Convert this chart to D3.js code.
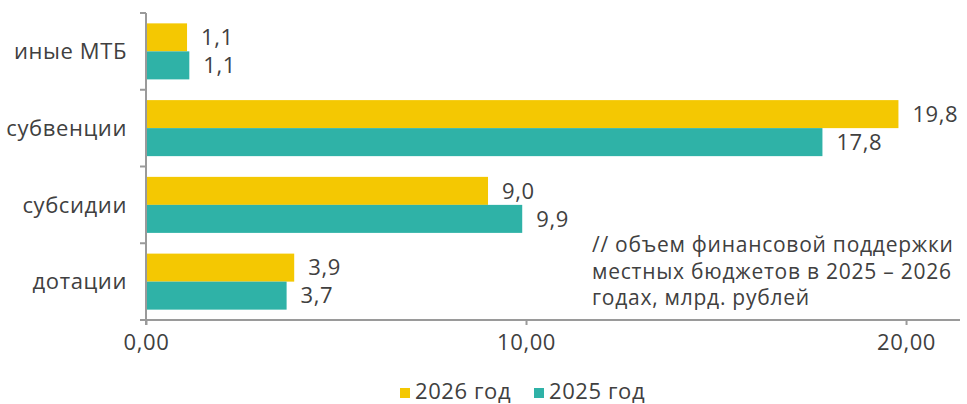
<!DOCTYPE html>
<html>
<head>
<meta charset="utf-8">
<script src="https://cdn.jsdelivr.net/npm/d3@7"></script>
<style>
  html, body { margin: 0; padding: 0; background: #fff; }
  svg { display: block; font-family: "Open Sans", "Noto Sans", sans-serif; }
  svg text { letter-spacing: 0.6px; }
</style>
</head>
<body>
<svg id="chart" width="967" height="404"></svg>
<script>
const categories = ["иные МТБ", "субвенции", "субсидии", "дотации"];
const values2026 = [1.08, 19.8, 9.0, 3.9];
const values2025 = [1.14, 17.8, 9.9, 3.7];
const seriesNames = ["2026 год", "2025 год"];
const seriesColors = ["#F4C802", "#2FB2A7"];
const xTicks = [0, 10, 20];
const noteLines = ["// объем финансовой поддержки", "местных бюджетов в 2025 – 2026", "годах, млрд. рублей"];

const svg = d3.select("#chart");
const textColor = "#404040";
const axisColor = "#9a9a9a";
const fs = 22;

const margin = {left: 146, top: 13, right: 7, bottom: 84};
const W = 967, H = 404;
const x = d3.scaleLinear().domain([0, 21.42]).range([margin.left, W - margin.right]);
const y = d3.scaleBand().domain(categories).range([margin.top, H - margin.bottom]).paddingInner(0).paddingOuter(0);
const inner = d3.scaleBand().domain([0, 1]).range([0, y.bandwidth()]).paddingOuter(0.37).paddingInner(0);

const fmt = v => d3.format(".1f")(v).replace(".", ",");
const fmtAxis = v => d3.format(".2f")(v).replace(".", ",");

const data = categories.map((c, i) => ({cat: c, vals: [values2026[i], values2025[i]]}));

// bars
const g = svg.append("g");
data.forEach(d => {
  d.vals.forEach((v, si) => {
    const yy = y(d.cat) + inner(si);
    g.append("rect")
      .attr("x", x(0))
      .attr("y", yy)
      .attr("width", x(v) - x(0))
      .attr("height", inner.bandwidth())
      .attr("fill", seriesColors[si]);
    g.append("text")
      .attr("x", x(v) + 14)
      .attr("y", yy + inner.bandwidth() / 2)
      .attr("dy", "0.35em")
      .attr("font-size", fs)
      .attr("fill", textColor)
      .text(fmt(v));
  });
});

// y axis
const yAxisG = svg.append("g");
yAxisG.append("line")
  .attr("x1", x(0)).attr("x2", x(0))
  .attr("y1", margin.top).attr("y2", H - margin.bottom + 5)
  .attr("stroke", axisColor).attr("stroke-width", 2);
const boundaries = categories.map(c => y(c)).concat([y.range()[1]]);
boundaries.forEach(b => {
  yAxisG.append("line")
    .attr("x1", x(0) - 6).attr("x2", x(0))
    .attr("y1", b).attr("y2", b)
    .attr("stroke", axisColor).attr("stroke-width", 2);
});
categories.forEach(c => {
  yAxisG.append("text")
    .attr("x", x(0) - 19)
    .attr("y", y(c) + y.bandwidth() / 2)
    .attr("dy", "0.35em")
    .attr("text-anchor", "end")
    .attr("font-size", fs)
    .attr("fill", textColor)
    .text(c);
});

// x axis
const xAxisY = H - margin.bottom;
const xAxis = d3.axisBottom(x).tickValues(xTicks).tickFormat(fmtAxis).tickSize(5).tickPadding(9);
const xg = svg.append("g").attr("transform", `translate(0,${xAxisY})`).call(xAxis);
xg.select(".domain").remove();
xg.append("line")
  .attr("x1", x(0) - 6).attr("x2", W - margin.right)
  .attr("y1", 0).attr("y2", 0)
  .attr("stroke", axisColor).attr("stroke-width", 2);
xg.selectAll(".tick line").attr("stroke", axisColor).attr("stroke-width", 2);
xg.selectAll(".tick text").attr("font-size", fs).attr("fill", textColor).attr("font-family", "Open Sans, sans-serif");

// note
noteLines.forEach((l, i) => {
  svg.append("text")
    .attr("x", 592).attr("y", 245 + i * 26.5).attr("dy", "0.35em")
    .attr("font-size", 21).attr("fill", textColor)
    .style("letter-spacing", "0.75px")
    .text(l);
});

// legend
const legendItems = [{x: 400, i: 0}, {x: 534, i: 1}];
legendItems.forEach(li => {
  svg.append("rect").attr("x", li.x).attr("y", 388).attr("width", 10).attr("height", 10).attr("fill", seriesColors[li.i]);
  svg.append("text").attr("x", li.x + 15).attr("y", 391).attr("dy", "0.35em")
    .attr("font-size", fs).attr("fill", textColor).text(seriesNames[li.i]);
});
</script>
</body>
</html>
